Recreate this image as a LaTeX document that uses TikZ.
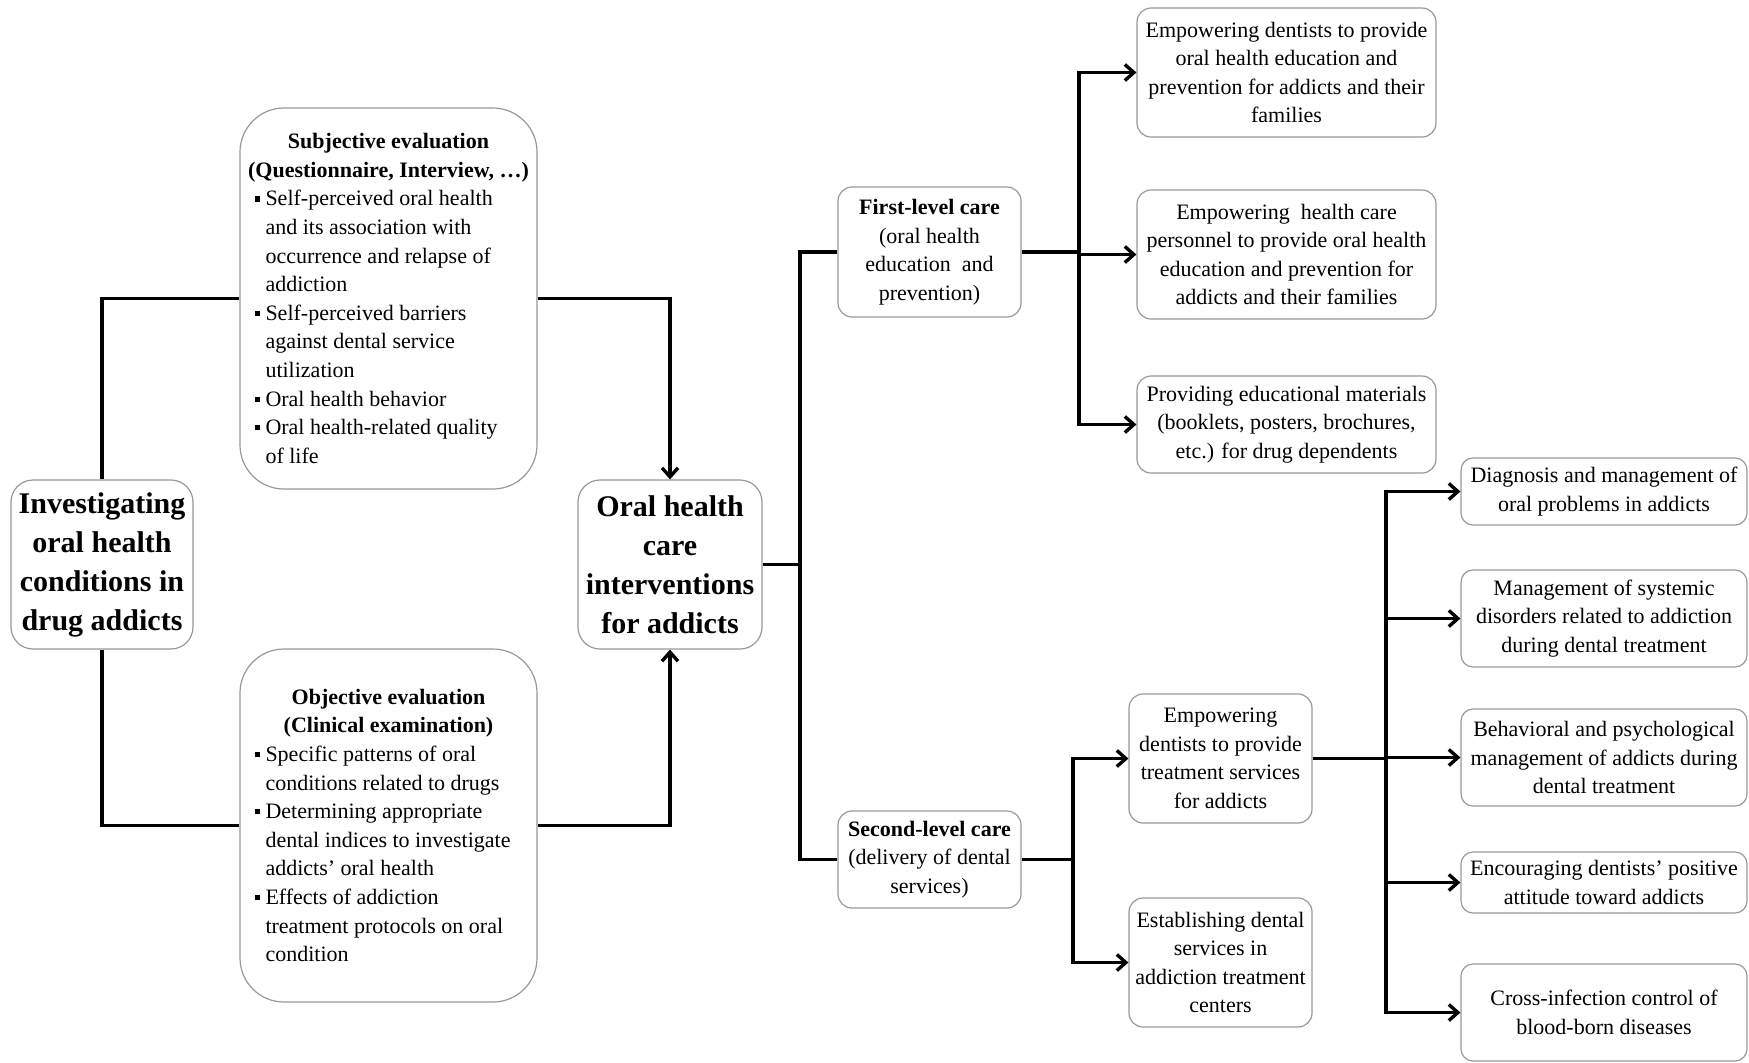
\documentclass[tikz,border=0pt]{standalone}
\usepackage{fontspec}
\setmainfont{Liberation Serif}
\usetikzlibrary{arrows.meta}
\newcommand\bul{\makebox[5.5pt][l]{\rule[2.2pt]{2.6pt}{2.6pt}}}
\newcommand\ind{\hspace*{5.5pt}}
\newcommand\hd[1]{\makebox[\linewidth][c]{\textbf{#1}}}
\begin{document}
\begin{tikzpicture}[x=0.5pt,y=-0.5pt,
  box/.style={draw=black!40, line width=0.6pt, rounded corners=7pt, align=center,
    inner sep=0pt, font=\fontsize{11}{14.3}\selectfont},
  bigbox/.style={box, rounded corners=11pt, font=\fontsize{15}{19.5}\selectfont\bfseries},
  evalbox/.style={box, rounded corners=22pt},
  rbox/.style={box, rounded corners=6pt, minimum width=143pt},
  conn/.style={line width=1.7pt, draw=black},
  arr/.style={conn, -{Straight Barb[length=4.5pt,width=8pt]}}
]
\fill[white] (0,0) rectangle (1749,1062);
\useasboundingbox (0,0) rectangle (1749,1062);

\node[bigbox, minimum width=91pt, minimum height=84.5pt] (inv) at (102,564.5)
  {Investigating\\oral health\\conditions in\\drug addicts};
\node[bigbox, minimum width=92pt, minimum height=84.5pt] (ohc) at (670,564.5)
  {Oral health\\care\\interventions\\for addicts};

\node[evalbox, minimum width=148.5pt, minimum height=190.5pt] (subj) at (388.5,298.5)
  {\begin{minipage}{134pt}\raggedright
   \hd{Subjective evaluation}\\
   \hd{(Questionnaire, Interview, …)}\\
   \bul Self-perceived oral health\\
   \ind and\ its association with\\
   \ind occurrence and\ relapse of\\
   \ind addiction\\
   \bul Self-perceived barriers\\
   \ind against dental service\\
   \ind utilization\\
   \bul Oral health behavior\\
   \bul Oral health-related quality\\
   \ind of life
   \end{minipage}};

\node[evalbox, minimum width=148.5pt, minimum height=176.5pt] (obj) at (388.5,825.5)
  {\begin{minipage}{134pt}\raggedright
   \hd{Objective evaluation}\\
   \hd{(Clinical examination)}\\
   \bul Specific patterns of oral\\
   \ind conditions related to drugs\\
   \bul Determining appropriate\\
   \ind dental indices to investigate\\
   \ind addicts’ oral health\\
   \bul Effects of addiction\\
   \ind treatment protocols on oral\\
   \ind condition
   \end{minipage}};

\node[box, minimum width=91.5pt, minimum height=65pt] (first) at (929.5,252)
  {\textbf{First-level care}\\(oral health\\education\ \ and\\prevention)};
\node[box, minimum width=91.5pt, minimum height=48.5pt] (second) at (929.5,859.5)
  {\textbf{Second-level care}\\(delivery of dental\\services)};

\node[box, minimum width=149.5pt, minimum height=64.5pt] (A) at (1286.5,72.5)
  {Empowering dentists to provide\\oral health education and\\prevention for addicts and their\\families};
\node[box, minimum width=149.5pt, minimum height=64.5pt] (B) at (1286.5,254.5)
  {Empowering\ \ health care\\personnel to provide oral health\\education and prevention for\\addicts and their families};
\node[box, minimum width=149.5pt, minimum height=48.5pt] (C) at (1286.5,424.5)
  {Providing educational materials\\(booklets, posters, brochures,\\etc.) for drug dependents};

\node[box, minimum width=91.5pt, minimum height=64.5pt] (E2) at (1220.5,758.5)
  {Empowering\\dentists to provide\\treatment services\\for addicts};
\node[box, minimum width=91.5pt, minimum height=64.5pt] (est) at (1220.5,962.5)
  {Establishing dental\\services in\\addiction treatment\\centers};

\node[rbox, minimum height=33.5pt] (D) at (1604,491.5)
  {Diagnosis and management of\\oral problems in addicts};
\node[rbox, minimum height=48.5pt] (E) at (1604,618.5)
  {Management of systemic\\disorders related to addiction\\during dental treatment};
\node[rbox, minimum height=48.5pt] (F) at (1604,757.5)
  {Behavioral and psychological\\management of addicts during\\dental treatment};
\node[rbox, minimum height=30.5pt] (G) at (1604,882.5)
  {Encouraging dentists’ positive\\attitude toward addicts};
\node[rbox, minimum height=48.5pt] (H) at (1604,1012.5)
  {Cross-infection control of\\blood-born diseases};

% left part
\draw[conn] (inv.north) |- (subj.west);
\draw[arr] (subj.east) -| (ohc.north);
\draw[conn] (inv.south) |- (obj.west);
\draw[arr] (obj.east) -| (ohc.south);

% levels
\coordinate (j1) at (800,564.5);
\draw[conn] (ohc.east) -- (j1);
\draw[conn] (j1) |- (first.west);
\draw[conn] (j1) |- (second.west);

\coordinate (j2) at (1079,252);
\draw[conn] (first.east) -- (j2);
\draw[arr] (j2) |- (A.west);
\draw[arr] (j2) |- (B.west);
\draw[arr] (j2) |- (C.west);

\coordinate (j3) at (1073,859.5);
\draw[conn] (second.east) -- (j3);
\draw[arr] (j3) |- (E2.west);
\draw[arr] (j3) |- (est.west);

\coordinate (j4) at (1386,758.5);
\draw[conn] (E2.east) -- (j4);
\draw[arr] (j4) |- (D.west);
\draw[arr] (j4) |- (E.west);
\draw[arr] (j4) |- (F.west);
\draw[arr] (j4) |- (G.west);
\draw[arr] (j4) |- (H.west);
\end{tikzpicture}
\end{document}
